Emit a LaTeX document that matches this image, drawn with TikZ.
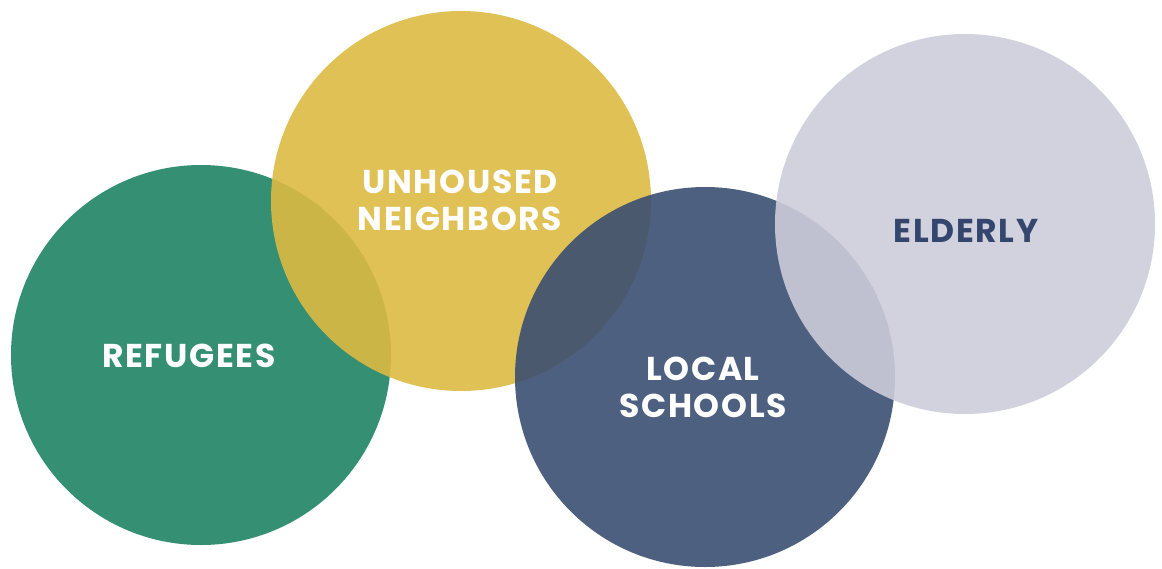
\documentclass[tikz,border=0pt]{standalone}
\usepackage{fontspec}
\setmainfont{Poppins}[BoldFont={Poppins Bold}, LetterSpace=5]
\usepackage{tikz}

\definecolor{refgreen}{RGB}{52,143,115}
\definecolor{unhyellow}{RGB}{221,186,67}
\definecolor{schoolblue}{RGB}{59,79,114}
\definecolor{eldlav}{RGB}{205,205,218}
\definecolor{eldtext}{RGB}{52,70,110}

\begin{document}
\begin{tikzpicture}[
    x = 1pt,
    y = -1pt,
    every node/.style = {font=\fontsize{33}{37}\selectfont\bfseries, align=center},
    bubble/.style     = {circle, minimum size=380pt, inner sep=0pt, text=white},
    seethrough/.style = {fill opacity=0.9, text opacity=1}
  ]
\useasboundingbox (0,0) rectangle (1162,568);

\node[bubble, fill=refgreen] (refugees) at (201,355) {};
\node[bubble, fill=unhyellow, seethrough] (unhoused) at (461,201) {};
\node[bubble, fill=schoolblue, seethrough] (schools) at (705,377) {};
\node[bubble, fill=eldlav, seethrough] (elderly) at (965,224) {};

% labels
\node[text=white] (reftext) at (189,356) {REFUGEES};
\node[text=white] (unhtext) at (460,200) {UNHOUSED\\NEIGHBORS};
\node[text=white] (schtext) at (703,387) {LOCAL\\SCHOOLS};
\node[text=eldtext] (eldtext) at (966,231) {ELDERLY};
\end{tikzpicture}
\end{document}
